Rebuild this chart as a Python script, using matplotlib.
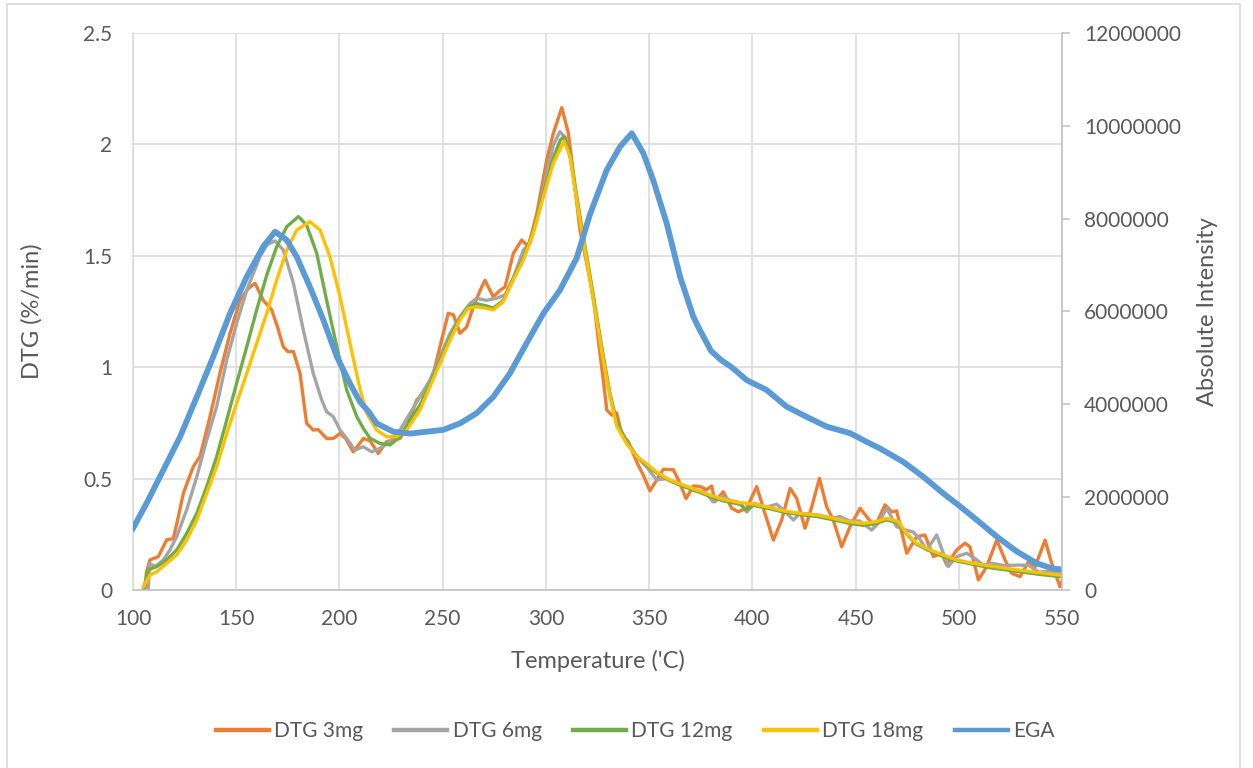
import matplotlib
matplotlib.use("Agg")
import matplotlib.pyplot as plt
from matplotlib.patches import Rectangle
from matplotlib.ticker import FuncFormatter

plt.rcParams['font.family'] = ['Lato', 'DejaVu Sans']

# --- data ---
t_3mg = [105.8, 106.5, 108.2, 112.3, 116.3, 119.5, 122.0, 124.4, 129.2, 132.5, 137.3, 142.1, 147.0,
         151.8, 155.5, 159.1, 163.1, 167.2, 170.0, 172.8, 175.0, 177.7, 180.9, 184.1, 187.3, 189.7,
         193.8, 197.0, 200.3, 203.0, 206.7, 211.6, 214.8, 218.8, 222.9, 229.3, 232.6, 237.4, 241.4,
         245.5, 248.7, 252.7, 255.2, 258.4, 261.6, 264.8, 268.9, 270.5, 274.5, 277.8, 280.2, 284.2,
         288.3, 291.5, 295.6, 300.4, 303.6, 307.7, 310.9, 313.3, 316.5, 319.8, 323.0, 325.4, 327.8,
         329.5, 331.9, 334.3, 336.7, 339.9, 344.0, 347.2, 350.4, 353.7, 356.9, 361.7, 364.2, 367.9,
         371.4, 374.6, 377.8, 380.3, 381.9, 385.9, 390.0, 393.2, 397.3, 402.1, 406.1, 410.2, 414.2,
         418.3, 421.5, 425.5, 428.8, 432.5, 436.0, 439.2, 443.3, 447.3, 452.2, 455.4, 459.4, 464.3,
         467.5, 469.9, 474.8, 479.6, 483.6, 487.7, 491.7, 494.2, 499.0, 503.0, 505.4, 509.5, 513.5,
         518.4, 522.4, 525.6, 529.7, 533.7, 537.0, 541.8, 545.0, 549.0, 550.0]
dtg_3mg = [0.0, 0.08, 0.135, 0.15, 0.225, 0.23, 0.33, 0.434, 0.554, 0.60, 0.778, 0.973, 1.152,
           1.30, 1.35, 1.377, 1.30, 1.257, 1.18, 1.092, 1.07, 1.07, 0.973, 0.748, 0.718, 0.72,
           0.68, 0.68, 0.703, 0.68, 0.62, 0.68, 0.67, 0.613, 0.666, 0.68, 0.733, 0.853, 0.89,
           0.973, 1.092, 1.242, 1.235, 1.152, 1.18, 1.27, 1.36, 1.39, 1.316, 1.345, 1.36, 1.51,
           1.571, 1.541, 1.69, 1.93, 2.05, 2.165, 2.05, 1.87, 1.616, 1.466, 1.316, 1.122, 0.943,
           0.808, 0.785, 0.795, 0.70, 0.666, 0.575, 0.515, 0.445, 0.494, 0.542, 0.54, 0.494, 0.41,
           0.467, 0.465, 0.45, 0.467, 0.396, 0.441, 0.367, 0.351, 0.367, 0.464, 0.344, 0.224, 0.314,
           0.456, 0.411, 0.277, 0.374, 0.501, 0.374, 0.314, 0.194, 0.284, 0.367, 0.329, 0.284, 0.382,
           0.351, 0.355, 0.165, 0.239, 0.247, 0.15, 0.165, 0.112, 0.18, 0.21, 0.194, 0.045, 0.105,
           0.224, 0.135, 0.075, 0.06, 0.127, 0.105, 0.224, 0.12, 0.015, 0.04]

t_6mg = [107.4, 108.0, 110.7, 114.7, 117.9, 121.2, 126.0, 130.9, 135.7, 140.5, 145.4, 150.2, 155.1,
         161.5, 165.0, 168.8, 172.8, 177.7, 182.5, 187.3, 191.4, 193.8, 197.0, 200.3, 203.5, 207.5,
         211.6, 215.6, 219.6, 224.5, 229.3, 234.2, 239.0, 243.9, 248.7, 253.6, 258.4, 263.3, 266.5,
         271.3, 276.2, 280.2, 284.2, 289.1, 292.3, 295.6, 300.4, 303.6, 306.8, 309.5, 312.0, 315.0,
         318.1, 321.4, 324.6, 327.8, 331.1, 334.3, 339.2, 344.0, 349.0, 353.7, 358.0, 362.0, 366.6,
         370.0, 373.1, 377.0, 381.0, 385.0, 390.0, 394.0, 397.3, 401.0, 406.0, 411.8, 415.0, 419.9,
         423.0, 428.0, 433.0, 438.0, 442.4, 447.0, 452.0, 457.8, 461.0, 465.1, 469.9, 474.0, 478.0,
         481.0, 484.5, 489.3, 494.9, 499.0, 503.9, 508.0, 511.9, 516.0, 522.0, 529.7, 534.0, 539.0,
         544.0, 550.0]
dtg_6mg = [0.0, 0.12, 0.105, 0.135, 0.18, 0.24, 0.36, 0.509, 0.673, 0.823, 1.032, 1.197, 1.346,
           1.496, 1.55, 1.567, 1.526, 1.377, 1.167, 0.973, 0.853, 0.80, 0.778, 0.718, 0.681, 0.628,
           0.643, 0.62, 0.636, 0.666, 0.718, 0.793, 0.868, 0.943, 1.047, 1.152, 1.227, 1.287, 1.309,
           1.30, 1.31, 1.324, 1.399, 1.526, 1.556, 1.66, 1.87, 1.997, 2.057, 2.03, 1.93, 1.75,
           1.571, 1.391, 1.212, 1.032, 0.868, 0.748, 0.666, 0.60, 0.55, 0.494, 0.50, 0.485, 0.462,
           0.46, 0.445, 0.44, 0.396, 0.42, 0.40, 0.392, 0.35, 0.39, 0.37, 0.385, 0.36, 0.314,
           0.345, 0.34, 0.335, 0.32, 0.33, 0.31, 0.31, 0.269, 0.30, 0.367, 0.284, 0.27, 0.26,
           0.23, 0.18, 0.247, 0.105, 0.15, 0.165, 0.14, 0.112, 0.12, 0.11, 0.112, 0.11, 0.08,
           0.085, 0.07]

t_12mg = [105.0, 107.4, 111.5, 116.3, 121.2, 126.0, 130.9, 135.7, 140.5, 145.4, 150.2, 155.1, 159.9,
          164.8, 169.6, 174.5, 180.1, 184.1, 189.0, 193.8, 198.7, 203.5, 208.4, 211.6, 214.8, 219.6,
          224.5, 229.3, 234.2, 239.0, 243.9, 248.7, 253.6, 258.4, 262.4, 266.5, 271.3, 274.5, 279.4,
          284.2, 289.1, 293.9, 298.8, 303.6, 307.0, 308.8, 311.7, 314.9, 318.1, 321.4, 324.6, 327.8,
          331.1, 334.3, 339.2, 344.0, 348.8, 354.5, 360.1, 366.6, 373.1, 379.5, 385.9, 394.0, 397.0,
          400.5, 406.9, 415.0, 423.1, 431.2, 439.2, 446.5, 453.8, 460.2, 465.1, 470.7, 474.8, 479.6,
          486.1, 492.5, 499.0, 507.0, 515.1, 523.2, 531.2, 539.3, 549.0, 550.0]
dtg_12mg = [0.0, 0.09, 0.105, 0.135, 0.18, 0.254, 0.344, 0.464, 0.598, 0.763, 0.928, 1.092, 1.257,
            1.414, 1.541, 1.631, 1.676, 1.638, 1.511, 1.30, 1.092, 0.898, 0.778, 0.725, 0.681, 0.658,
            0.651, 0.688, 0.763, 0.83, 0.925, 1.03, 1.135, 1.22, 1.27, 1.285, 1.275, 1.265, 1.30,
            1.40, 1.49, 1.61, 1.78, 1.94, 2.02, 2.035, 1.96, 1.77, 1.59, 1.41, 1.23, 1.05,
            0.88, 0.755, 0.665, 0.60, 0.56, 0.52, 0.49, 0.465, 0.443, 0.42, 0.40, 0.385, 0.36,
            0.38, 0.368, 0.35, 0.338, 0.33, 0.315, 0.30, 0.29, 0.30, 0.315, 0.30, 0.25, 0.205,
            0.175, 0.15, 0.13, 0.115, 0.10, 0.09, 0.08, 0.07, 0.06, 0.06]

t_18mg = [105.0, 108.2, 111.5, 116.3, 121.2, 126.0, 130.9, 135.7, 140.5, 145.4, 150.2, 155.1, 159.9,
          164.8, 169.6, 174.5, 179.3, 185.7, 190.6, 195.4, 200.3, 205.1, 210.0, 213.2, 218.0, 222.9,
          227.7, 232.6, 239.0, 243.9, 248.7, 253.6, 258.4, 262.4, 266.5, 271.3, 274.5, 279.4, 284.2,
          289.1, 293.9, 298.8, 303.6, 308.8, 311.7, 314.9, 318.1, 321.4, 324.6, 327.8, 331.1, 334.3,
          339.2, 344.0, 348.8, 354.5, 360.1, 366.6, 373.1, 379.5, 385.9, 394.0, 400.5, 406.9, 415.0,
          423.1, 431.2, 439.2, 446.5, 453.8, 460.2, 465.1, 470.7, 474.8, 479.6, 486.1, 492.5, 499.0,
          507.0, 515.1, 523.2, 531.2, 539.3, 549.0, 550.0]
dtg_18mg = [0.015, 0.067, 0.082, 0.12, 0.157, 0.224, 0.314, 0.434, 0.553, 0.703, 0.838, 0.973, 1.107,
            1.242, 1.391, 1.526, 1.616, 1.653, 1.616, 1.496, 1.316, 1.107, 0.90, 0.793, 0.718, 0.688,
            0.688, 0.718, 0.808, 0.913, 1.017, 1.122, 1.212, 1.264, 1.271, 1.264, 1.257, 1.294, 1.391,
            1.481, 1.601, 1.765, 1.915, 2.015, 1.945, 1.75, 1.571, 1.391, 1.212, 1.032, 0.868, 0.735,
            0.655, 0.60, 0.566, 0.524, 0.494, 0.471, 0.449, 0.426, 0.407, 0.392, 0.386, 0.374, 0.356,
            0.344, 0.337, 0.322, 0.307, 0.299, 0.307, 0.322, 0.307, 0.254, 0.21, 0.18, 0.157, 0.135,
            0.12, 0.108, 0.097, 0.087, 0.078, 0.067, 0.065]

t_ega = [100.0, 106.6, 114.7, 122.8, 130.9, 138.9, 147.0, 155.1, 163.1, 168.8, 174.5, 179.3, 185.7,
         192.2, 198.7, 205.1, 210.0, 214.0, 218.0, 226.1, 234.2, 242.2, 250.3, 258.4, 266.5, 274.5,
         282.6, 290.7, 298.8, 306.8, 314.9, 321.4, 329.5, 335.9, 341.6, 347.2, 352.0, 358.5, 365.0,
         371.4, 374.6, 380.0, 385.0, 390.0, 397.3, 406.9, 416.6, 426.3, 436.0, 447.3, 455.0, 461.8,
         473.1, 482.8, 492.5, 499.8, 508.7, 518.4, 528.1, 537.8, 545.0, 550.0]
ega = [1330000, 1870000, 2585000, 3300000, 4160000, 5030000, 5960000, 6750000, 7400000, 7720000,
       7540000, 7180000, 6530000, 5820000, 5030000, 4450000, 4050000, 3850000, 3590000, 3410000,
       3370000, 3410000, 3450000, 3590000, 3810000, 4160000, 4670000, 5320000, 5960000, 6460000,
       7150000, 8100000, 9050000, 9550000, 9840000, 9410000, 8830000, 7900000, 6750000, 5890000,
       5600000, 5150000, 4950000, 4800000, 4520000, 4310000, 3950000, 3730000, 3520000, 3380000,
       3200000, 3050000, 2760000, 2440000, 2080000, 1830000, 1510000, 1150000, 830000, 575000,
       470000, 440000]

dtg_ticks = [0, 0.5, 1, 1.5, 2, 2.5]
dtg_tick_labels = ['0', '0.5', '1', '1.5', '2', '2.5']
ega_ticks = [0, 2000000, 4000000, 6000000, 8000000, 10000000, 12000000]
temp_ticks = [100, 150, 200, 250, 300, 350, 400, 450, 500, 550]

TXT = '#595959'
GRID = '#D9D9D9'
AXIS = '#BFBFBF'

fig = plt.figure(figsize=(12.53, 7.68), dpi=100)
fig.patches.append(Rectangle((7 / 1253, -0.01), 1233 / 1253, 1 - 4 / 768 + 0.01,
                             transform=fig.transFigure, fill=False, edgecolor=GRID, linewidth=1.2))

ax1 = fig.add_axes([133 / 1253, 1 - 590 / 768, 929 / 1253, 557 / 768])
ax1.plot(t_3mg, dtg_3mg, color='#ED7D31', lw=2.4, label='DTG 3mg')
ax1.plot(t_6mg, dtg_6mg, color='#A5A5A5', lw=2.4, label='DTG 6mg')
ax1.plot(t_12mg, dtg_12mg, color='#70AD47', lw=2.4, label='DTG 12mg')
ax1.plot(t_18mg, dtg_18mg, color='#FFC000', lw=2.4, label='DTG 18mg')

ax1.set_xlim(100, 550)
ax1.set_ylim(0, 2.5)
ax1.set_xticks(temp_ticks)
ax1.set_yticks(dtg_ticks)
ax1.set_yticklabels(dtg_tick_labels)
ax1.grid(True, color=GRID, lw=1.1)
ax1.set_axisbelow(True)
for s in ['top', 'right']:
    ax1.spines[s].set_visible(False)
ax1.spines['left'].set_color(GRID)
ax1.spines['bottom'].set_color(AXIS)
ax1.spines['left'].set_linewidth(1.1)
ax1.spines['bottom'].set_linewidth(1.1)
ax1.tick_params(axis='both', length=0, labelsize=15, colors=TXT)
ax1.tick_params(axis='y', pad=15)
ax1.tick_params(axis='x', pad=14)
ax1.set_xlabel("Temperature ('C)", fontsize=17, color=TXT)
ax1.set_ylabel('DTG (%/min)', fontsize=17, color=TXT)
ax1.xaxis.set_label_coords(0.5, -0.108)
ax1.yaxis.set_label_coords(-0.0975, 0.5)

ax2 = ax1.twinx()
ax2.plot(t_ega, ega, color='#5B9BD5', lw=4.2, label='EGA')
ax2.set_ylim(0, 12000000)
ax2.set_yticks(ega_ticks)
ax2.yaxis.set_major_formatter(FuncFormatter(lambda v, p: f'{int(v)}'))
for s in ['top', 'left', 'bottom']:
    ax2.spines[s].set_visible(False)
ax2.spines['right'].set_color(AXIS)
ax2.spines['right'].set_linewidth(1.1)
ax2.tick_params(axis='y', length=6, width=1.1, color=AXIS, labelsize=15, labelcolor=TXT, pad=10)
ax2.set_ylabel('Absolute Intensity', fontsize=17, color=TXT)
ax2.yaxis.set_label_coords(1.1455, 0.5)

h1, l1 = ax1.get_legend_handles_labels()
h2, l2 = ax2.get_legend_handles_labels()
leg = fig.legend(h1 + h2, l1 + l2, loc='center', bbox_to_anchor=(635 / 1253, 1 - 731 / 768),
                 ncol=5, frameon=False, fontsize=15, handlelength=2.55, handletextpad=0.25,
                 columnspacing=1.5, labelcolor=TXT)
for line in leg.get_lines():
    line.set_linewidth(3.2)

fig.savefig('out.png', dpi=100)
